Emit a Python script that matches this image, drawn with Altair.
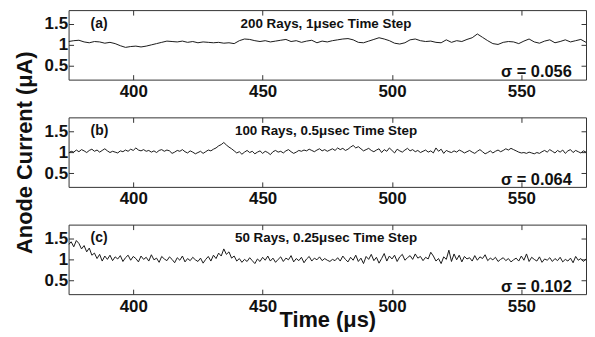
import altair as alt
import pandas as pd

FONT = "Liberation Sans"

# ---- data ----
# (a) 200 rays, 1 usec step  (sampled every 2 us)
t_a = [375 + 2 * i for i in range(101)]
current_a = [
    1.08, 1.10, 1.11, 1.07, 1.05, 1.08, 1.07, 1.04, 1.06, 1.03, 0.98,
    0.94, 0.96, 0.97, 0.95, 0.97, 1.00, 1.03, 1.06, 1.09, 1.08,
    1.07, 1.09, 1.06, 1.08, 1.05, 1.07, 1.06, 1.05, 1.06, 1.04, 1.05, 1.03,
    1.10, 1.14, 1.13, 1.10, 1.08, 1.10, 1.07, 1.09, 1.11, 1.13, 1.08,
    1.10, 1.06, 1.09, 1.11, 1.05, 1.09, 1.07,
    1.10, 1.12, 1.14, 1.15, 1.12, 1.06, 1.05, 1.09, 1.13, 1.17,
    1.14, 1.10, 1.04, 1.02, 1.05, 1.12, 1.14, 1.10, 1.08, 1.09,
    1.06, 1.05, 1.12, 1.06, 1.10, 1.08, 1.13, 1.17, 1.26, 1.18,
    1.10, 1.03, 1.01, 1.06, 1.08, 1.07, 1.03, 1.09, 1.14, 1.07,
    1.04, 1.09, 1.12, 1.05, 1.08, 1.12, 1.07, 1.10, 1.13, 1.06,
]

# (b) 100 rays, 0.5 usec step (sampled every 1 us)
t_b = [375 + i for i in range(201)]
current_b = [
    0.98, 1.02, 1.00, 1.05, 1.01, 1.06, 1.03, 0.99, 1.04, 1.07,
    1.02, 1.05, 1.00, 1.04, 1.08, 1.03, 0.99, 1.02, 1.00, 0.98,
    1.03, 1.01, 1.05, 1.02, 1.07, 1.04, 1.10, 1.05, 1.03, 1.06,
    1.02, 1.04, 1.00, 1.03, 0.99, 1.04, 1.06, 1.02, 1.05, 1.03,
    0.97, 1.00, 1.04, 1.02, 1.06, 1.01, 0.98, 1.03, 1.00, 0.96,
    0.99, 1.02, 0.97, 1.01, 1.05, 1.03, 1.07, 1.10, 1.15, 1.18,
    1.23, 1.17, 1.12, 1.08, 1.03, 0.98, 1.01, 0.95, 1.00, 1.04,
    0.99, 1.02, 0.96, 1.00, 1.03, 0.97, 1.02, 0.99, 0.94, 1.01,
    1.04, 1.00, 1.02, 0.98, 1.03, 1.06, 1.01, 0.97, 1.00, 1.04,
    1.02, 1.05, 1.03, 1.07, 1.04, 1.01, 1.05, 1.08, 1.03, 1.06,
    1.02, 1.05, 1.08, 1.04, 1.10, 1.06, 1.09, 1.04, 1.07, 1.12,
    1.16, 1.10, 1.13, 1.08, 1.03, 1.06, 1.09, 1.04, 1.01, 1.05,
    1.08, 0.99, 1.06, 1.02, 1.10, 1.04, 0.98, 1.07, 1.03, 1.00,
    1.05, 1.09, 1.03, 1.06, 1.01, 1.04, 0.99, 1.02, 1.05, 1.00,
    1.03, 0.98, 1.10, 1.02, 1.07, 0.97, 1.04, 1.01, 0.99, 1.03,
    1.00, 1.05, 1.02, 0.98, 1.01, 1.04, 1.00, 0.97, 1.02, 1.06,
    1.01, 0.96, 0.99, 1.03, 0.98, 1.02, 1.05, 1.01, 1.04, 1.08,
    1.05, 1.09, 1.06, 1.03, 1.00, 0.98, 0.99, 0.97, 1.00, 0.98,
    0.96, 0.99, 0.97, 1.01, 1.04, 1.00, 1.06, 1.02, 0.98, 1.04,
    1.00, 1.05, 0.97, 1.03, 1.06, 0.99, 1.04, 1.01, 0.98, 1.03,
    1.00,
]

# (c) 50 rays, 0.25 usec step (sampled every 1 us)
t_c = [375 + i for i in range(201)]
current_c = [
    1.35, 1.42, 1.30, 1.45, 1.38, 1.25, 1.33, 1.18, 1.27, 1.10,
    1.15, 1.02, 1.12, 0.96, 1.08, 1.00, 1.10, 0.97, 1.06, 1.01,
    1.09, 0.95, 1.04, 1.10, 0.98, 1.07, 1.02, 0.94, 1.08, 1.00,
    1.05, 0.96, 1.11, 0.99, 1.03, 0.93, 1.07, 1.01, 0.97, 1.06,
    1.00, 0.92, 1.04, 0.98, 1.08, 0.94, 1.02, 0.97, 1.05, 0.99,
    0.95, 1.03, 0.91, 1.00, 1.07, 0.96, 1.10, 1.02, 1.15, 1.08,
    1.25, 1.12, 1.18, 1.03, 1.08, 0.96, 1.02, 0.93, 1.00, 0.95,
    1.04, 0.97, 0.90, 1.01, 0.95, 1.05, 0.98, 1.08, 0.96, 1.03,
    0.93, 1.00, 1.06, 0.95, 1.03, 0.99, 1.09, 0.94, 1.02, 0.97,
    1.05, 0.92, 1.01, 1.07, 0.96, 1.03, 0.99, 1.06, 0.97, 1.02,
    0.98, 0.95, 1.00, 0.97, 1.04, 0.96, 1.08, 1.00, 0.94, 1.05,
    0.98, 1.10, 0.95, 1.03, 0.90, 1.07, 1.00, 1.12, 0.97, 1.05,
    0.91, 1.02, 1.14, 0.96, 1.08, 1.01, 1.10, 0.95, 1.06, 1.12,
    0.98, 1.04, 1.09, 1.00, 1.13, 1.03, 1.07, 0.97, 1.05, 1.01,
    1.17, 1.08, 0.96, 1.02, 0.90, 1.06, 1.00, 1.22, 0.95, 1.13,
    0.99, 1.10, 0.94, 1.07, 1.01, 1.04, 0.96, 1.09, 0.98, 1.06,
    1.02, 1.11, 0.97, 1.03, 0.99, 1.05, 0.95, 1.00, 1.04, 0.97,
    1.02, 0.94, 0.99, 1.03, 0.96, 1.08, 0.98, 1.13, 0.95, 1.05,
    1.00, 0.96, 1.06, 0.93, 1.01, 0.98, 1.04, 0.95, 1.02, 0.97,
    1.05, 0.94, 1.00, 0.96, 1.03, 0.92, 1.07, 0.98, 1.02, 0.95,
    1.01,
]

tags = ["(a)", "(b)", "(c)"]
captions = ["200 Rays, 1\u03bcsec Time Step", "100 Rays, 0.5\u03bcsec Time Step",
            "50 Rays, 0.25\u03bcsec Time Step"]
sigmas = ["\u03c3 = 0.056", "\u03c3 = 0.064", "\u03c3 = 0.102"]
x_ticks = [400, 450, 500, 550]
y_ticks = [0.5, 1, 1.5]

X_DOMAIN = [375, 575]
Y_DOMAIN = [0.17, 1.83]


def panel(times, values, tag, caption, sigma, x_title=False, y_title=False):
    df = pd.DataFrame({"t": times, "I": values})
    xs = alt.Scale(domain=X_DOMAIN, nice=False, zero=False)
    ys = alt.Scale(domain=Y_DOMAIN, nice=False, zero=False)
    common = dict(offset=-5, tickSize=5, domain=False, grid=False,
                  tickColor="#333333", tickWidth=1)
    x_axis_kw = dict(orient="bottom", values=x_ticks, format="d", labelPadding=4, **common)
    if x_title:
        x_axis_kw.update(titlePadding=-4)
    y_axis_kw = dict(orient="left", values=y_ticks, format="~g", labelPadding=1, **common)
    if y_title:
        y_axis_kw.update(titlePadding=8)
    line = alt.Chart(df).mark_line(color="#1a1a1a", strokeWidth=1, clip=True).encode(
        x=alt.X("t:Q", scale=xs, axis=alt.Axis(**x_axis_kw),
                title="Time (\u03bcs)" if x_title else None),
        y=alt.Y("I:Q", scale=ys, axis=alt.Axis(**y_axis_kw),
                title="Anode Current (\u03bcA)" if y_title else None),
    )
    mirror = alt.Chart(df).mark_line(opacity=0).encode(
        x=alt.X("t:Q", scale=xs, title=None,
                axis=alt.Axis(orient="top", values=x_ticks, labels=False, **common)),
        y=alt.Y("I:Q", scale=ys, title=None,
                axis=alt.Axis(orient="right", values=y_ticks, labels=False, **common)),
    )
    ann = pd.DataFrame({
        "t": [383.5, 474.5, 569.5],
        "I": [1.5, 1.5, 0.34],
        "txt": [tag, caption, sigma],
        "kind": ["tag", "cap", "sig"],
    })

    def txt(kind, align, size):
        return alt.Chart(ann).transform_filter(alt.datum.kind == kind).mark_text(
            align=align, baseline="middle", font=FONT, fontWeight="bold",
            fontSize=size, color="#111111",
        ).encode(
            x=alt.X("t:Q", scale=xs, axis=None),
            y=alt.Y("I:Q", scale=ys, axis=None),
            text="txt:N",
        )
    return alt.layer(
        line, mirror, txt("tag", "left", 14), txt("cap", "center", 13.5), txt("sig", "right", 16.5)
    ).resolve_axis(x="independent", y="independent").properties(width=521, height=70)


pa = panel(t_a, current_a, tags[0], captions[0], sigmas[0])
pb = panel(t_b, current_b, tags[1], captions[1], sigmas[1], y_title=True)
pc = panel(t_c, current_c, tags[2], captions[2], sigmas[2], x_title=True)

chart = alt.vconcat(pa, pb, pc, spacing=38, bounds="flush").properties(
    padding={"left": 4, "top": 0, "right": 0, "bottom": 0}
).configure_view(
    stroke="#333333", strokeWidth=1
).configure_axis(
    labelFont=FONT, labelFontWeight="bold", labelFontSize=17, labelColor="#111111",
    titleFont=FONT, titleFontWeight="bold", titleFontSize=22, titleColor="#111111",
)

chart.save("out.html", embed_options={"renderer": "svg", "actions": False})
